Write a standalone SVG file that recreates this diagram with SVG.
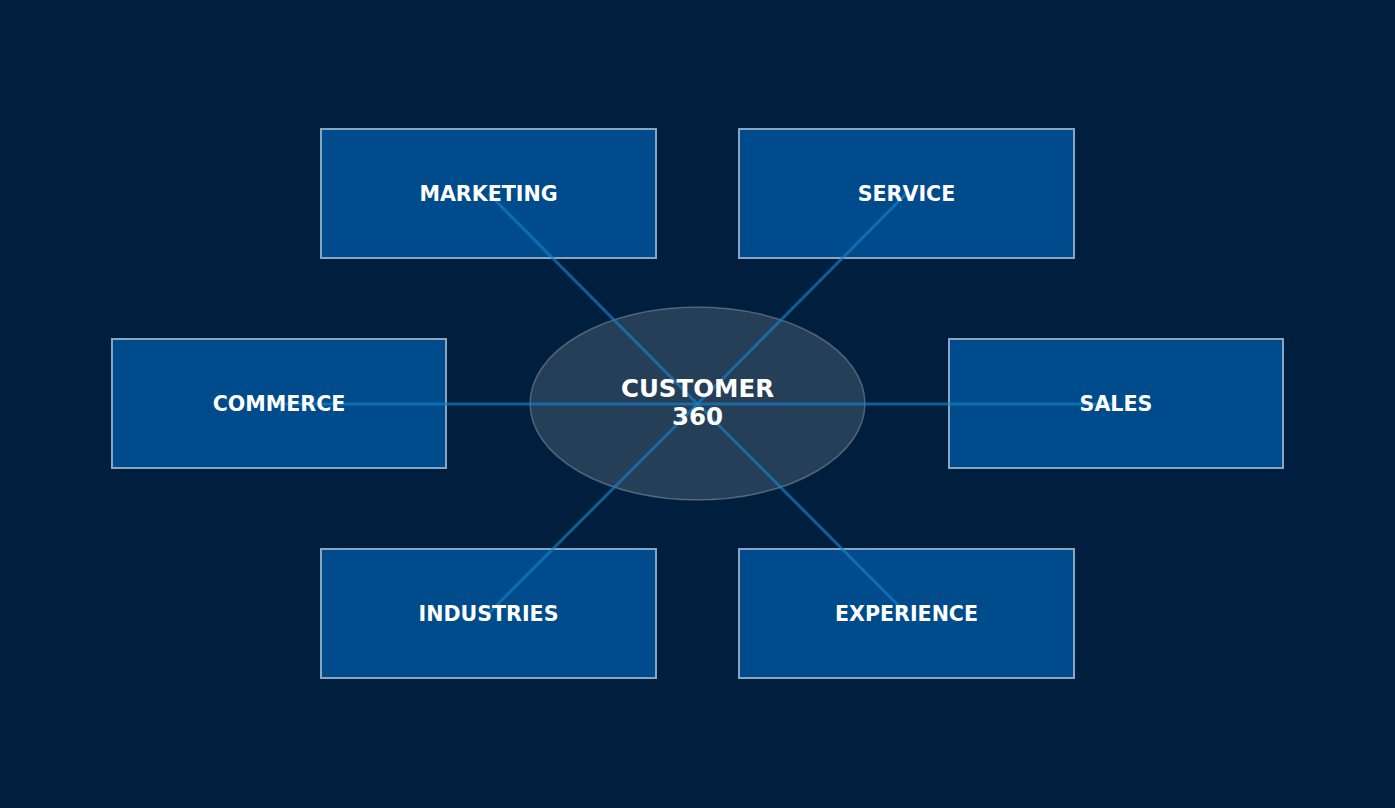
<svg xmlns="http://www.w3.org/2000/svg" width="1395" height="808" viewBox="0 0 1395 808">
<style>
.box{fill:#004b8b;stroke:#8aa5c2;stroke-width:2}
.lbl{font-family:"DejaVu Sans",sans-serif;font-weight:bold;font-size:20.6px;fill:#ffffff;text-anchor:middle}
.ctr{font-family:"DejaVu Sans",sans-serif;font-weight:bold;font-size:24.5px;fill:#ffffff;text-anchor:middle}
.conn{stroke:#1581c8;stroke-opacity:0.65;stroke-width:3;fill:none}
</style>
<rect width="1395" height="808" fill="#001e3d"/>
<g id="marketing"><rect class="box" x="321" y="129" width="335" height="129"/></g>
<g id="service"><rect class="box" x="739" y="129" width="335" height="129"/></g>
<g id="commerce"><rect class="box" x="112" y="339" width="334" height="129"/></g>
<g id="sales"><rect class="box" x="949" y="339" width="334" height="129"/></g>
<g id="industries"><rect class="box" x="321" y="549" width="335" height="129"/></g>
<g id="experience"><rect class="box" x="739" y="549" width="335" height="129"/></g>
<g id="customer360"><ellipse cx="697.5" cy="403.5" rx="167.5" ry="96.5" fill="#ffffff" fill-opacity="0.15" stroke="#ffffff" stroke-opacity="0.25" stroke-width="1.5"/></g>
<g id="connectors">
<line class="conn" x1="697.5" y1="404" x2="488.5" y2="193.5"/>
<line class="conn" x1="697.5" y1="404" x2="906.5" y2="193.5"/>
<line class="conn" x1="697.5" y1="404" x2="279" y2="404"/>
<line class="conn" x1="697.5" y1="404" x2="1116" y2="404"/>
<line class="conn" x1="697.5" y1="404" x2="488.5" y2="613.5"/>
<line class="conn" x1="697.5" y1="404" x2="906.5" y2="613.5"/>
</g>
<g id="labels">
<text class="lbl" x="488.5" y="200.5">MARKETING</text>
<text class="lbl" x="906.5" y="200.5">SERVICE</text>
<text class="lbl" x="279" y="410.5">COMMERCE</text>
<text class="lbl" x="1116" y="410.5">SALES</text>
<text class="lbl" x="488.5" y="620.5">INDUSTRIES</text>
<text class="lbl" x="906.5" y="620.5">EXPERIENCE</text>
<text class="ctr" x="697.5" y="397">CUSTOMER</text>
<text class="ctr" x="697.5" y="424.5">360</text>
</g>
</svg>
